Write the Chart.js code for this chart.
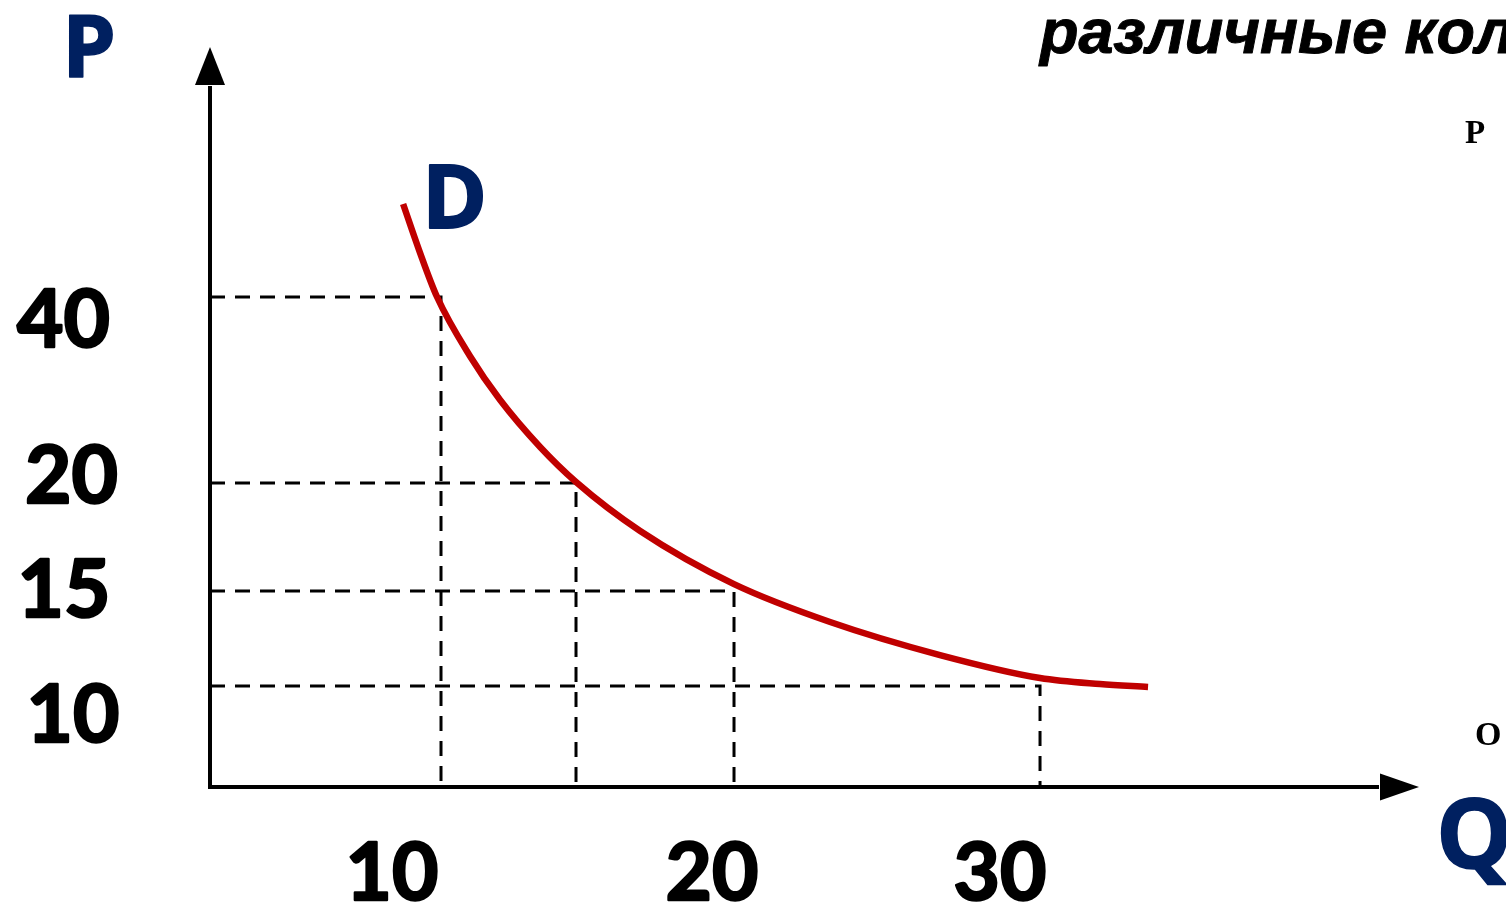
<!DOCTYPE html>
<html><head><meta charset="utf-8">
<script src="https://cdn.jsdelivr.net/npm/chart.js@4.4.1/dist/chart.umd.min.js"></script>
<style>html,body{margin:0;padding:0;background:#fff;overflow:hidden}#wrap{position:relative;width:1506px;height:907px}</style>
</head><body><div id="wrap"><canvas id="c" width="1506" height="907"></canvas></div>
<script>
// ---- data ----
const xTicks = [10, 20, 30];
const yTicks = [10, 15, 20, 40];
const pointQ = [10, 15, 20, 30];
const pointP = [40, 20, 15, 10];
const curveQ = [8.36, 9.05, 9.83, 11.07, 12.19, 13.67, 15.0, 17.03, 20.0, 23.14, 26.73, 30.0, 31.96, 33.53];
const curveP = [50.0, 45.05, 40.0, 33.66, 28.92, 23.87, 20.11, 17.78, 15.32, 13.37, 11.63, 10.42, 10.1, 9.9];

// ---- axis spacing of the hand-drawn schematic (piecewise linear) ----
const spacing = {
  x: { knots: [0, 10, 15, 20, 30], units: [0, 231, 366, 524, 830] },
  y: { knots: [0, 10, 15, 20, 40], units: [0, 101, 196, 304, 490] }
};

class PiecewiseScale extends Chart.LinearScale {
  static id = 'piecewise';
  static defaults = {};
  _u(v) {
    const { knots: k, units: u } = spacing[this.id];
    const n = k.length; let i = 1;
    while (i < n - 1 && v > k[i]) i++;
    return u[i - 1] + (v - k[i - 1]) * (u[i] - u[i - 1]) / (k[i] - k[i - 1]);
  }
  _v(t) {
    const { knots: k, units: u } = spacing[this.id];
    const n = k.length; let i = 1;
    while (i < n - 1 && t > u[i]) i++;
    return k[i - 1] + (t - u[i - 1]) * (k[i] - k[i - 1]) / (u[i] - u[i - 1]);
  }
  getPixelForValue(value) {
    const a = this._u(this.min), b = this._u(this.max);
    return this.getPixelForDecimal((this._u(value) - a) / (b - a));
  }
  getValueForPixel(pixel) {
    const a = this._u(this.min), b = this._u(this.max);
    return this._v(a + this.getDecimalForPixel(pixel) * (b - a));
  }
}
Chart.register(PiecewiseScale);

const NAVY = '#002060';
const RED = '#C00000';

const curveData = curveQ.map((q, i) => ({ x: q, y: curveP[i] }));
const guideSets = pointQ.map((q, i) => ({
  data: [{ x: 0, y: pointP[i] }, { x: q, y: pointP[i] }, { x: q, y: 0 }],
  borderColor: '#000', borderWidth: 3, borderDash: [15, 10],
  pointRadius: 0, tension: 0, fill: false, clip: false
}));

const xLabelOffsets = [-49, -22, -40];
const xLabelBaseline = 900;
const yLabelCenters = [73, 64, 71.5, 63.5];
const yLabelBaseOffsets = [56, 26, 20, 50];

function boldText(ctx, s, x, y, w) {
  ctx.lineWidth = w; ctx.lineJoin = 'round';
  ctx.strokeText(s, x, y);
  ctx.fillText(s, x, y);
}

const overlay = {
  id: 'overlay',
  afterDatasetsDraw(chart) {
    const { ctx, scales: { x, y } } = chart;
    const x0 = x.getPixelForValue(0), y0 = y.getPixelForValue(0);
    const xEnd = x.right, yEnd = y.top;
    ctx.save();
    // axes
    ctx.strokeStyle = '#000'; ctx.lineWidth = 4; ctx.lineCap = 'butt';
    ctx.beginPath();
    ctx.moveTo(x0, y0 + 2); ctx.lineTo(x0, yEnd + 1);
    ctx.moveTo(x0 - 2, y0); ctx.lineTo(xEnd - 1, y0);
    ctx.stroke();
    ctx.fillStyle = '#000';
    ctx.beginPath();
    ctx.moveTo(x0, yEnd - 38); ctx.lineTo(x0 - 15, yEnd); ctx.lineTo(x0 + 15, yEnd); ctx.closePath(); ctx.fill();
    ctx.beginPath();
    ctx.moveTo(xEnd + 39, y0); ctx.lineTo(xEnd, y0 - 13.5); ctx.lineTo(xEnd, y0 + 13.5); ctx.closePath(); ctx.fill();

    // tick labels
    ctx.font = 'bold 80px Lato';
    ctx.textAlign = 'center'; ctx.textBaseline = 'alphabetic';
    ctx.fillStyle = '#000'; ctx.strokeStyle = '#000';
    xTicks.forEach((v, i) => boldText(ctx, String(v), x.getPixelForValue(v) + xLabelOffsets[i], xLabelBaseline, 2.5));
    yTicks.forEach((v, i) => boldText(ctx, String(v), yLabelCenters[i], y.getPixelForValue(v) + yLabelBaseOffsets[i], 2.5));

    // axis letters and curve label
    ctx.fillStyle = NAVY; ctx.strokeStyle = NAVY; ctx.textAlign = 'left';
    ctx.font = 'bold 86px "Open Sans"';
    boldText(ctx, 'P', 62, 77, 1.5);
    ctx.font = 'bold 88px "Open Sans"';
    boldText(ctx, 'D', 422, 228, 2);
    ctx.font = 'bold 96px "Open Sans"';
    boldText(ctx, 'Q', 1436, 868, 1.5);

    // fragments on the right
    ctx.fillStyle = '#000'; ctx.strokeStyle = '#000';
    ctx.font = 'italic bold 63px "Liberation Sans"';
    boldText(ctx, 'различные кол', 1040, 53, 1);
    ctx.font = 'bold 33px "Liberation Serif"';
    ctx.fillText('P', 1465, 143);
    ctx.font = 'bold 34px "Liberation Serif"';
    ctx.fillText('O', 1475, 745);
    ctx.restore();
  }
};

new Chart(document.getElementById('c'), {
  type: 'line',
  data: {
    datasets: [
      { data: curveData, borderColor: RED, borderWidth: 6.5, pointRadius: 0,
        cubicInterpolationMode: 'monotone', fill: false, clip: false },
      ...guideSets
    ]
  },
  options: {
    responsive: false, animation: false, devicePixelRatio: 1,
    layout: { padding: { left: 210, right: 126, top: 85, bottom: 120 } },
    plugins: { legend: { display: false }, tooltip: { enabled: false } },
    scales: {
      x: { type: 'piecewise', min: 0, max: 41.11, display: false },
      y: { type: 'piecewise', min: 0, max: 62.8, display: false }
    }
  },
  plugins: [overlay]
});
</script></body></html>
